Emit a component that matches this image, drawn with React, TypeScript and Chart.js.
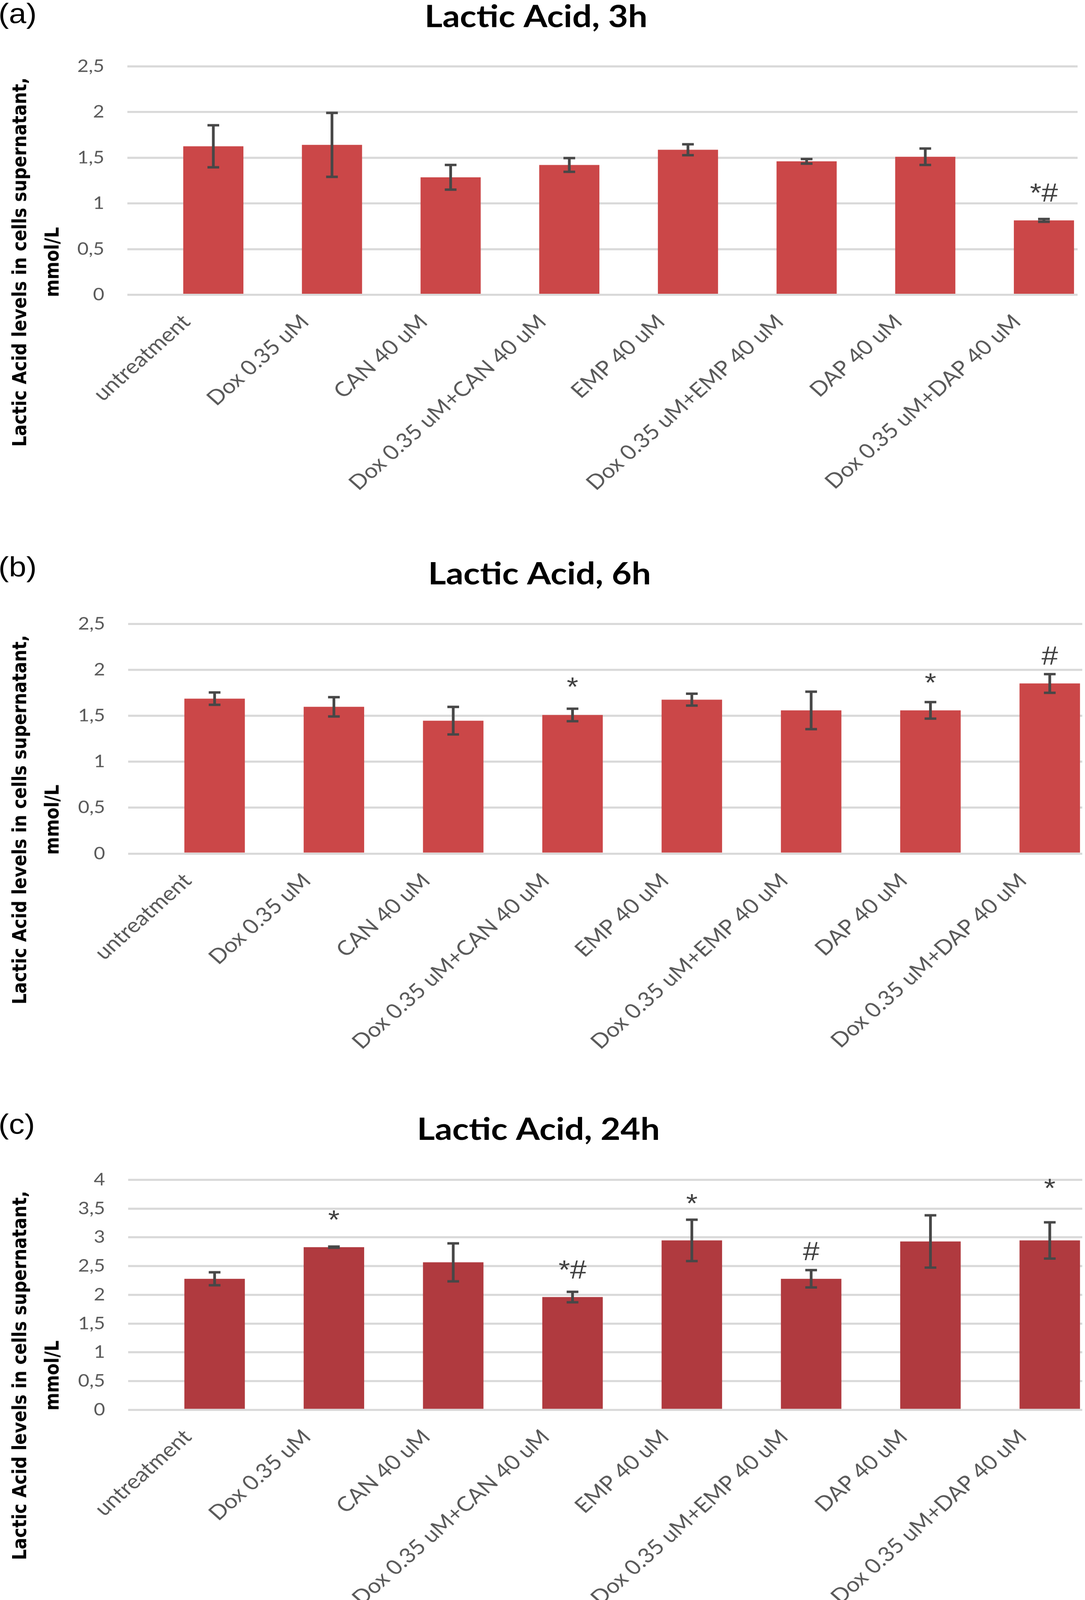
import React, { useEffect, useRef } from "react";
import { Chart, registerables } from "chart.js";

Chart.register(...registerables);

const PAGE_W = 2777;
const PAGE_H = 4603;
// The figure is laid out in 2777x4603 coordinates; if the viewport is shorter,
// the canvases are displayed vertically fitted so the whole figure is visible.
const VIEW_SCALE =
  typeof window !== "undefined" && window.innerHeight > 0
    ? Math.min(1, window.innerHeight / PAGE_H)
    : 1;

// ---- categories & texts ----
const categories = [
  "untreatment",
  "Dox 0.35 uM",
  "CAN 40 uM",
  "Dox 0.35 uM+CAN 40 uM",
  "EMP 40 uM",
  "Dox 0.35 uM+EMP 40 uM",
  "DAP 40 uM",
  "Dox 0.35 uM+DAP 40 uM",
];
const panelLetters = ["(a)", "(b)", "(c)"];
const titles = ["Lactic Acid, 3h", "Lactic Acid, 6h", "Lactic Acid, 24h"];
const yTitleLines = ["Lactic Acid levels in cells supernatant,", "mmol/L"];

// ---- 3h ----
const values3h = [1.625, 1.64, 1.285, 1.42, 1.587, 1.46, 1.51, 0.814];
const errors3h = [0.23, 0.35, 0.135, 0.075, 0.06, 0.025, 0.09, 0.015];
const marks3h = ["", "", "", "", "", "", "", "*#"];
const markLevels3h = [null, null, null, null, null, null, null, 1.02];
const yMax3h = 2.5;

// ---- 6h ----
const values6h = [1.686, 1.597, 1.446, 1.508, 1.675, 1.558, 1.558, 1.851];
const errors6h = [0.067, 0.105, 0.15, 0.068, 0.065, 0.204, 0.09, 0.102];
const marks6h = ["", "", "", "*", "", "", "*", "#"];
const markLevels6h = [null, null, null, 1.72, null, null, 1.765, 2.057];
const yMax6h = 2.5;

// ---- 24h ----
const values24h = [2.279, 2.829, 2.565, 1.961, 2.946, 2.279, 2.928, 2.946];
const errors24h = [0.113, 0.01, 0.33, 0.09, 0.36, 0.15, 0.455, 0.315];
const marks24h = ["", "*", "", "*#", "*", "#", "", "*"];
const markLevels24h = [null, 3.154, null, 2.284, 3.438, 2.604, null, 3.704];
const yMax24h = 4;

const yStep = 0.5;

const panels = [
  {
    letter: panelLetters[0], title: titles[0],
    values: values3h, errors: errors3h, marks: marks3h, markLevels: markLevels3h, yMax: yMax3h,
    color: "#CB4748",
    height: 1580,
    area: { top: 190.6, bottom: 848, left: 326, right: 2758 },
    xMin: -0.7244, xMax: 7.2835,
    titleX: 1372, titleY: 77.5, letterY: 66, yTitleY: 754,
  },
  {
    letter: panelLetters[1], title: titles[1],
    values: values6h, errors: errors6h, marks: marks6h, markLevels: markLevels6h, yMax: yMax6h,
    color: "#CB4748",
    height: 1600,
    area: { top: 214.5, bottom: 875.5, left: 328, right: 2770 },
    xMin: -0.7246, xMax: 7.2724,
    titleX: 1381, titleY: 101, letterY: 78, yTitleY: 778,
  },
  {
    letter: panelLetters[2], title: titles[2],
    values: values24h, errors: errors24h, marks: marks24h, markLevels: markLevels24h, yMax: yMax24h,
    color: "#B03A3F",
    height: 1423,
    area: { top: 213.9, bottom: 875.7, left: 328, right: 2770 },
    xMin: -0.7246, xMax: 7.2724,
    titleX: 1378, titleY: 99, letterY: 81, yTitleY: 777,
  },
];

function makeDecor(p: any) {
  return {
    id: "decor",
    afterDatasetsDraw(chart: any) {
      const { ctx } = chart;
      const x = chart.scales.x;
      const y = chart.scales.y;
      ctx.save();
      ctx.strokeStyle = "#474747";
      ctx.lineWidth = 7;
      ctx.lineCap = "butt";
      p.values.forEach((v: number, i: number) => {
        const e = p.errors[i];
        const px = x.getPixelForValue(i);
        const yt = y.getPixelForValue(v + e);
        const yb = y.getPixelForValue(v - e);
        ctx.beginPath();
        ctx.moveTo(px, yt);
        ctx.lineTo(px, yb);
        ctx.moveTo(px - 15, yt);
        ctx.lineTo(px + 15, yt);
        ctx.moveTo(px - 15, yb);
        ctx.lineTo(px + 15, yb);
        ctx.stroke();
      });
      ctx.fillStyle = "#404040";
      ctx.font = "76px 'Liberation Sans'";
      ctx.textAlign = "center";
      ctx.textBaseline = "alphabetic";
      p.marks.forEach((m: string, i: number) => {
        const lvl = p.markLevels[i];
        if (m && lvl != null) {
          ctx.fillText(m, x.getPixelForValue(i), y.getPixelForValue(lvl));
        }
      });
      ctx.restore();
    },
    afterDraw(chart: any) {
      const { ctx } = chart;
      ctx.save();
      ctx.fillStyle = "#000";
      ctx.font = "80px 'Liberation Sans'";
      ctx.textAlign = "left";
      ctx.textBaseline = "alphabetic";
      ctx.fillText(p.letter, -4, p.letterY);
      ctx.font = "bold 88px Lato";
      ctx.textAlign = "center";
      ctx.fillText(p.title, p.titleX, p.titleY);
      ctx.font = "bold 49px 'DejaVu Sans'";
      ctx.textAlign = "center";
      const bases = [67, 150];
      yTitleLines.forEach((line, k) => {
        ctx.save();
        ctx.translate(bases[k], p.yTitleY);
        ctx.rotate(-Math.PI / 2);
        ctx.fillText(line, 0, 0);
        ctx.restore();
      });
      ctx.restore();
    },
  };
}

function Panel({ p }: { p: any }) {
  const ref = useRef<HTMLCanvasElement | null>(null);
  useEffect(() => {
    const canvas = ref.current;
    if (!canvas) return;
    const chart = new Chart(canvas, {
      type: "bar",
      data: {
        datasets: [
          {
            data: p.values.map((v: number, i: number) => ({ x: i, y: v })),
            backgroundColor: p.color,
            borderWidth: 0,
            barPercentage: 0.507,
            categoryPercentage: 1,
          } as any,
        ],
      },
      options: {
        animation: false,
        responsive: false,
        devicePixelRatio: 1,
        layout: {
          padding: { top: p.area.top, left: 0, right: PAGE_W - p.area.right, bottom: 0 },
        },
        plugins: {
          legend: { display: false },
          tooltip: { enabled: false },
          title: { display: false },
        },
        scales: {
          x: {
            type: "linear",
            min: p.xMin,
            max: p.xMax,
            offset: false,
            grid: { display: false, offset: false },
            border: { display: false },
            afterBuildTicks: (s: any) => {
              s.ticks = categories.map((_, i) => ({ value: i }));
            },
            afterFit: (s: any) => {
              s.height = p.height - p.area.bottom;
            },
            ticks: {
              autoSkip: false,
              minRotation: 45,
              maxRotation: 45,
              padding: 35,
              labelOffset: -69,
              color: "#595959",
              font: { family: "Lato", size: 59 },
              callback: (v: any) => categories[Math.round(Number(v))] ?? "",
            },
          },
          y: {
            min: 0,
            max: p.yMax,
            afterFit: (s: any) => {
              s.width = p.area.left;
            },
            grid: { color: "#D9D9D9", lineWidth: 6, drawTicks: false },
            border: { display: false },
            ticks: {
              stepSize: yStep,
              padding: 59,
              color: "#595959",
              font: { family: "Lato", size: 50 },
              callback: (v: any) => String(v).replace(".", ","),
            },
          },
        } as any,
      },
      plugins: [makeDecor(p)],
    } as any);
    return () => chart.destroy();
  }, [p]);
  return (
    <canvas
      ref={ref}
      width={PAGE_W}
      height={p.height}
      style={{ display: "block", width: PAGE_W, height: p.height * VIEW_SCALE }}
    />
  );
}

export default function App() {
  return (
    <div
      style={{
        position: "absolute",
        left: 0,
        top: 0,
        width: PAGE_W,
        overflow: "hidden",
        background: "#fff",
      }}
    >
      {panels.map((p, i) => (
        <Panel key={i} p={p} />
      ))}
    </div>
  );
}
